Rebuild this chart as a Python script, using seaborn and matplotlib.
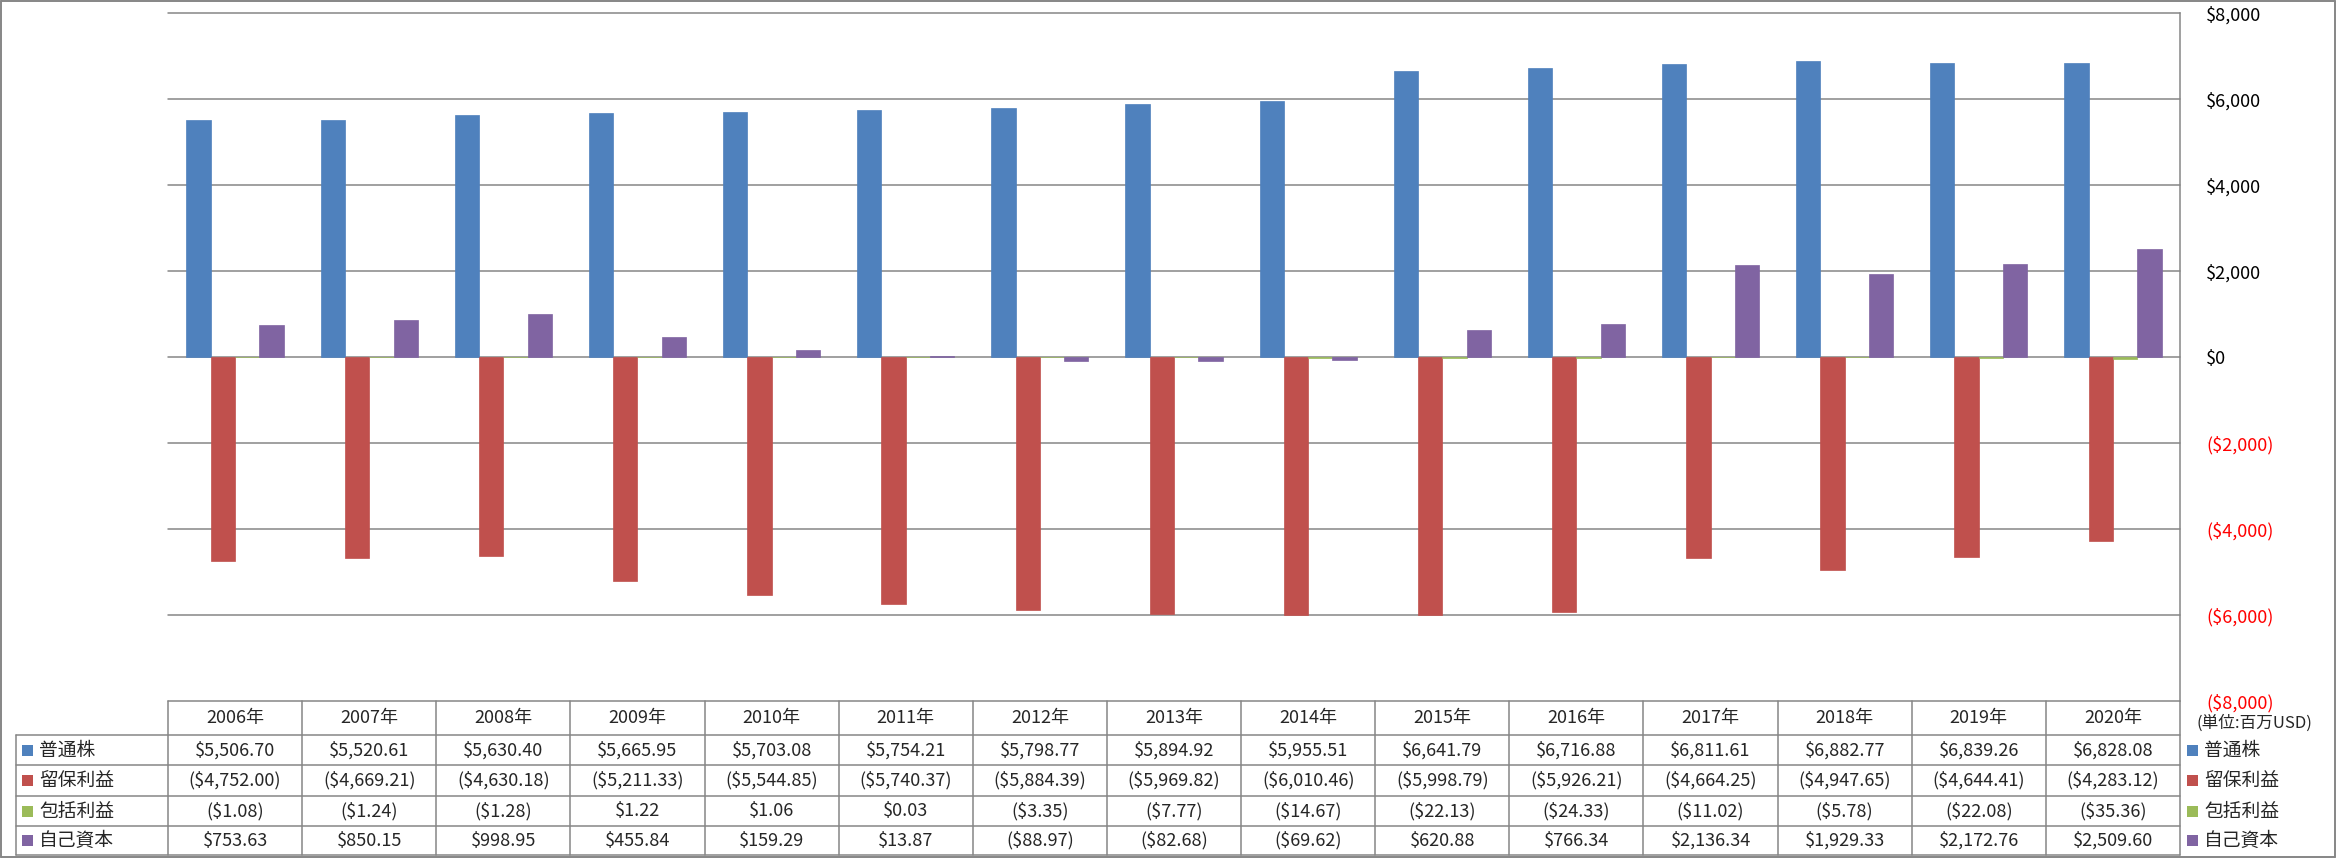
import numpy as np
import pandas as pd
import matplotlib
matplotlib.use("Agg")
import matplotlib.pyplot as plt
import seaborn as sns
from matplotlib.lines import Line2D
from matplotlib.patches import Rectangle
from matplotlib.ticker import FuncFormatter, FixedLocator
from matplotlib.transforms import blended_transform_factory

# ---------------- data ----------------
years = ["2006年", "2007年", "2008年", "2009年", "2010年", "2011年", "2012年", "2013年",
         "2014年", "2015年", "2016年", "2017年", "2018年", "2019年", "2020年"]
series_names = ["普通株", "留保利益", "包括利益", "自己資本"]
common_stock = [5506.70, 5520.61, 5630.40, 5665.95, 5703.08, 5754.21, 5798.77, 5894.92,
                5955.51, 6641.79, 6716.88, 6811.61, 6882.77, 6839.26, 6828.08]
retained_earnings = [-4752.00, -4669.21, -4630.18, -5211.33, -5544.85, -5740.37, -5884.39, -5969.82,
                     -6010.46, -5998.79, -5926.21, -4664.25, -4947.65, -4644.41, -4283.12]
comprehensive_income = [-1.08, -1.24, -1.28, 1.22, 1.06, 0.03, -3.35, -7.77,
                        -14.67, -22.13, -24.33, -11.02, -5.78, -22.08, -35.36]
equity = [753.63, 850.15, 998.95, 455.84, 159.29, 13.87, -88.97, -82.68,
          -69.62, 620.88, 766.34, 2136.34, 1929.33, 2172.76, 2509.60]
y_ticks = [-8000, -6000, -4000, -2000, 0, 2000, 4000, 6000, 8000]
unit_label = "(単位:百万USD)"
colors = ["#4F81BD", "#C0504D", "#9BBB59", "#8064A2"]

series_values = [common_stock, retained_earnings, comprehensive_income, equity]
df = pd.DataFrame({
    "year": years * len(series_names),
    "series": [s for s in series_names for _ in years],
    "value": [v for vals in series_values for v in vals],
})

# ---------------- style ----------------
sns.set_style("white")
plt.rcParams["font.family"] = ["Noto Sans CJK JP", "DejaVu Sans"]
GRID = "#868686"

W, H = 2336, 858
fig = plt.figure(figsize=(W / 100, H / 100), dpi=100)
fig.patch.set_facecolor("white")

def fx(x):
    return x / W

def fy(y):
    return 1 - y / H

ax = fig.add_axes([fx(168), fy(701), fx(2180) - fx(168), fy(13) - fy(701)])

sns.barplot(data=df, x="year", y="value", hue="series", order=years,
            hue_order=series_names, palette=colors, width=0.725, saturation=1,
            errorbar=None, legend=False, ax=ax)
for p in ax.patches:
    p.set_edgecolor(p.get_facecolor())
    p.set_linewidth(0.5)

ax.set_xlim(-0.5, len(years) - 0.5)
ax.set_ylim(-8000, 8000)
ax.set_xlabel("")
ax.set_ylabel("")
ax.set_xticks([])
ax.yaxis.set_major_locator(FixedLocator(y_ticks))

def money(v, dec=2):
    s = f"${abs(v):,.{dec}f}"
    return f"({s})" if v < 0 else s

ax.yaxis.set_major_formatter(FuncFormatter(lambda v, pos: money(v, 0)))
ax.yaxis.set_ticks_position("right")
ax.tick_params(axis="y", length=0, pad=19, labelsize=13)
for lbl, v in zip(ax.get_yticklabels(), y_ticks):
    lbl.set_color("#FF0000" if v < 0 else "black")

ax.yaxis.grid(True, color=GRID, linewidth=1.1)
ax.set_axisbelow(True)
for gl in ax.get_ygridlines():
    gl.set_clip_on(False)
for side in ["left", "top", "bottom"]:
    ax.spines[side].set_visible(False)
ax.spines["right"].set_color(GRID)
ax.spines["right"].set_linewidth(1.1)

# ---------------- data table ----------------
trans = blended_transform_factory(ax.transData, fig.transFigure)
n = len(years)
row_edges = [735, 765, 796, 826, 855]
row_centers = [(row_edges[i] + row_edges[i + 1]) / 2 for i in range(4)]

# horizontal lines
for y in row_edges:
    fig.add_artist(Line2D([fx(16), fx(2180)], [fy(y), fy(y)], color=GRID, lw=1.1))
# vertical lines
fig.add_artist(Line2D([fx(16), fx(16)], [fy(735), fy(855)], color=GRID, lw=1.1))
for i in range(n + 1):
    fig.add_artist(Line2D([i - 0.5, i - 0.5], [fy(701), fy(855)], color=GRID, lw=1.1,
                          transform=trans))

# header
for i, yr in enumerate(years):
    fig.text(i, fy(718.5), yr, transform=trans, ha="center", va="center", fontsize=13)

# values
for r, vals in enumerate(series_values):
    for i, v in enumerate(vals):
        fig.text(i, fy(row_centers[r]), money(v), transform=trans,
                 ha="center", va="center", fontsize=13)
    # left row labels
    fig.add_artist(Rectangle((fx(22), fy(row_centers[r] + 5.5)), 11 / W, 11 / H,
                             transform=fig.transFigure, facecolor=colors[r], edgecolor="none"))
    fig.text(fx(39), fy(row_centers[r]), series_names[r], ha="left", va="center", fontsize=13.5)
    # right legend
    fig.add_artist(Rectangle((fx(2187), fy(row_centers[r] + 5.5)), 11 / W, 11 / H,
                             transform=fig.transFigure, facecolor=colors[r], edgecolor="none"))
    fig.text(fx(2204), fy(row_centers[r]), series_names[r], ha="left", va="center", fontsize=13.5)

fig.text(fx(2196), fy(723), unit_label, ha="left", va="center", fontsize=12)

# outer border
for xs, ys in [([1, 2335], [1, 1]), ([1, 2335], [857, 857]), ([1, 1], [1, 857]), ([2335, 2335], [1, 857])]:
    fig.add_artist(Line2D([fx(xs[0]), fx(xs[1])], [fy(ys[0]), fy(ys[1])], color=GRID, lw=1.4))

fig.savefig("out.png", dpi=100)
